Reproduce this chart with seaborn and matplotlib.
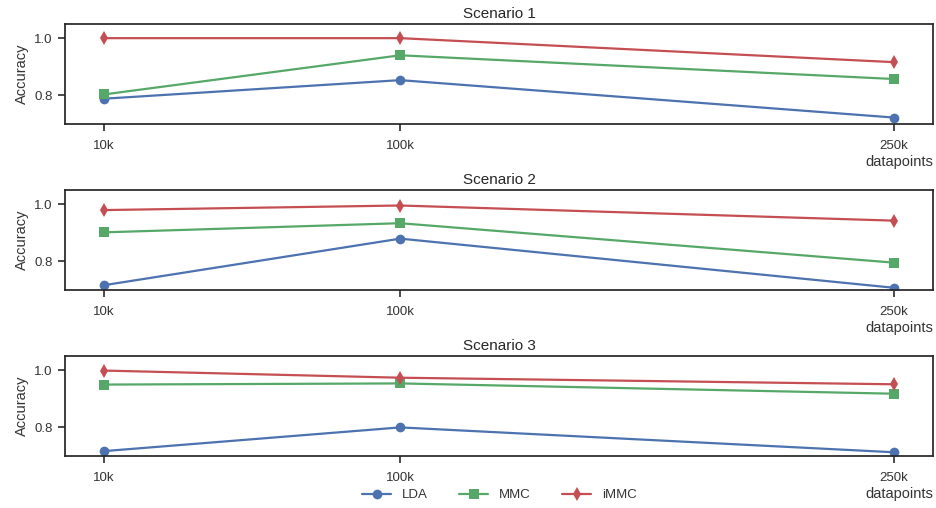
import pandas as pd
import matplotlib.pyplot as plt
import seaborn as sns

# Accuracy per scenario
datapoints = [10, 100, 250]
tick_labels = ['10k', '100k', '250k']
methods = ['LDA', 'MMC', 'iMMC']
scenarios = ['Scenario 1', 'Scenario 2', 'Scenario 3']

lda = [[0.788, 0.853, 0.722], [0.716, 0.879, 0.707], [0.716, 0.799, 0.712]]
mmc = [[0.803, 0.940, 0.857], [0.901, 0.933, 0.795], [0.949, 0.953, 0.917]]
immc = [[1.000, 1.000, 0.916], [0.979, 0.995, 0.942], [0.998, 0.973, 0.950]]

colors = ['#4C72B0', '#55A868', '#C44E52']

sns.set_theme(style='ticks')
plt.rcParams['font.family'] = ['Liberation Sans', 'DejaVu Sans']
plt.rcParams['axes.edgecolor'] = '#262626'

fig, axes = plt.subplots(3, 1, figsize=(9.37, 5.08), dpi=100)
fig.subplots_adjust(left=0.069, right=0.996, top=0.953, bottom=0.103, hspace=0.66)

for i, ax in enumerate(axes):
    rows = []
    for name, vals in zip(methods, [lda[i], mmc[i], immc[i]]):
        for x, v in zip(datapoints, vals):
            rows.append({'datapoints': x, 'Accuracy': v, 'method': name})
    df = pd.DataFrame(rows)
    sns.lineplot(data=df, x='datapoints', y='Accuracy', hue='method', style='method',
                 markers=['o', 's', 'd'], dashes=False, palette=colors,
                 markersize=7, markeredgewidth=0, linewidth=1.6, ax=ax, legend=(i == 2))
    ax.set_title(scenarios[i], fontsize=11, pad=4)
    ax.set_ylim(0.7, 1.05)
    ax.set_yticks([0.8, 1.0])
    ax.set_xticks(datapoints)
    ax.set_xticklabels(tick_labels)
    ax.tick_params(labelsize=9.5, colors='#333333', length=5)
    ax.tick_params(axis='x', pad=7)
    ax.set_ylabel('Accuracy', fontsize=10.5, color='#333333')
    ax.set_xlabel('datapoints', fontsize=10.5, loc='right', labelpad=2, color='#333333')

handles, labels = axes[2].get_legend_handles_labels()
axes[2].get_legend().remove()
fig.legend(handles, labels, loc='center', bbox_to_anchor=(0.533, 0.025), ncol=3,
           frameon=False, fontsize=9.5, columnspacing=2.4, handlelength=2.2,
           labelcolor='#333333')

plt.savefig('out.png')
